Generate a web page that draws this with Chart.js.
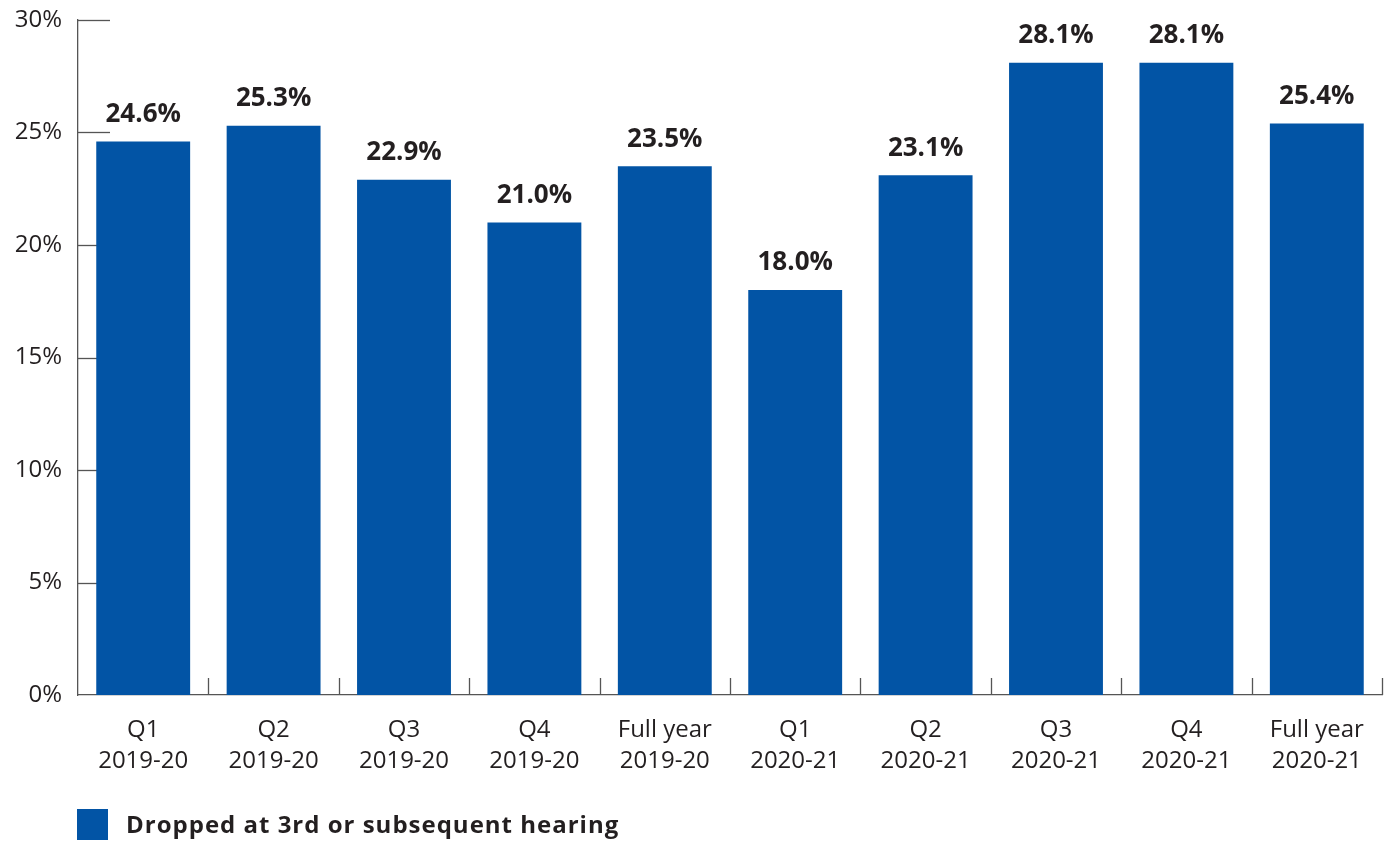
<!DOCTYPE html>
<html>
<head>
<meta charset="utf-8">
<script src="https://cdn.jsdelivr.net/npm/chart.js@4/dist/chart.umd.min.js"></script>
<style>
html,body{margin:0;padding:0;background:#fff;}
#wrap{width:1392px;height:843px;position:relative;}
</style>
</head>
<body>
<div id="wrap"><canvas id="c" width="1392" height="843"></canvas></div>
<script>
const categories = [
  ["Q1","2019-20"],["Q2","2019-20"],["Q3","2019-20"],["Q4","2019-20"],["Full year","2019-20"],
  ["Q1","2020-21"],["Q2","2020-21"],["Q3","2020-21"],["Q4","2020-21"],["Full year","2020-21"]
];
const values = [24.6, 25.3, 22.9, 21.0, 23.5, 18.0, 23.1, 28.1, 28.1, 25.4];
const seriesLabel = "Dropped at 3rd or subsequent hearing";
const yTicks = [0, 5, 10, 15, 20, 25, 30];

const BLUE = "#0254a5";
const TEXT = "#231f20";
const AXIS = "#555555";
const FONT = "'Open Sans', Lato, sans-serif";

const decor = {
  id: "decor",
  beforeDatasetsDraw(chart) {
    const ctx = chart.ctx, ya = chart.scales.y, ca = chart.chartArea;
    ctx.save();
    ctx.strokeStyle = AXIS;
    ctx.lineWidth = 1.3;
    yTicks.forEach(v => {
      if (v === 0) return;
      const y = Math.round(ya.getPixelForValue(v)) + 0.5;
      ctx.beginPath(); ctx.moveTo(ca.left, y); ctx.lineTo(ca.left + 32, y); ctx.stroke();
    });
    const step = (ca.right - ca.left) / categories.length;
    for (let i = 1; i <= categories.length; i++) {
      const x = Math.round(ca.left + i * step) + 0.5;
      ctx.beginPath(); ctx.moveTo(x, ca.bottom); ctx.lineTo(x, ca.bottom - 17); ctx.stroke();
    }
    ctx.restore();
  },
  afterDatasetsDraw(chart) {
    const ctx = chart.ctx;
    const meta = chart.getDatasetMeta(0);
    ctx.save();
    ctx.fillStyle = TEXT;
    ctx.font = "bold 26px " + FONT;
    ctx.textAlign = "center";
    ctx.textBaseline = "middle";
    meta.data.forEach((bar, i) => {
      ctx.fillText(values[i].toFixed(1) + "%", bar.x, bar.y - 27);
    });
    const ca = chart.chartArea;
    ctx.fillStyle = BLUE;
    ctx.fillRect(ca.left - 1, 809, 31, 31);
    ctx.fillStyle = TEXT;
    ctx.textAlign = "left";
    ctx.font = "bold 24px " + FONT;
    ctx.letterSpacing = "1px";
    ctx.fillText(seriesLabel, ca.left + 48, 826);
    ctx.restore();
  }
};

new Chart(document.getElementById("c"), {
  type: "bar",
  data: {
    labels: categories,
    datasets: [{
      label: seriesLabel,
      data: values,
      backgroundColor: BLUE,
      borderWidth: 0,
      categoryPercentage: 1.0,
      barPercentage: 0.72
    }]
  },
  options: {
    responsive: false,
    animation: false,
    events: [],
    layout: { autoPadding: false, padding: { top: 20, right: 10, left: 0, bottom: 0 } },
    plugins: { legend: { display: false }, tooltip: { enabled: false } },
    scales: {
      x: {
        grid: { display: false },
        border: { display: true, color: AXIS, width: 1.3 },
        ticks: { color: TEXT, font: { family: FONT, size: 24, lineHeight: 1.31 }, padding: 11, maxRotation: 0, autoSkip: false },
        afterFit(s) { s.height = 148; }
      },
      y: {
        min: 0, max: 30,
        afterBuildTicks(s) { s.ticks = yTicks.map(v => ({ value: v })); },
        grid: { display: false },
        border: { display: true, color: AXIS, width: 1.3 },
        ticks: { color: TEXT, font: { family: FONT, size: 24, lineHeight: 0.5 }, padding: 8, callback: v => v + "%" },
        afterFit(s) { s.width = 78; s.paddingTop = 0; s.paddingBottom = 0; }
      }
    }
  },
  plugins: [decor]
});
</script>
</body>
</html>
